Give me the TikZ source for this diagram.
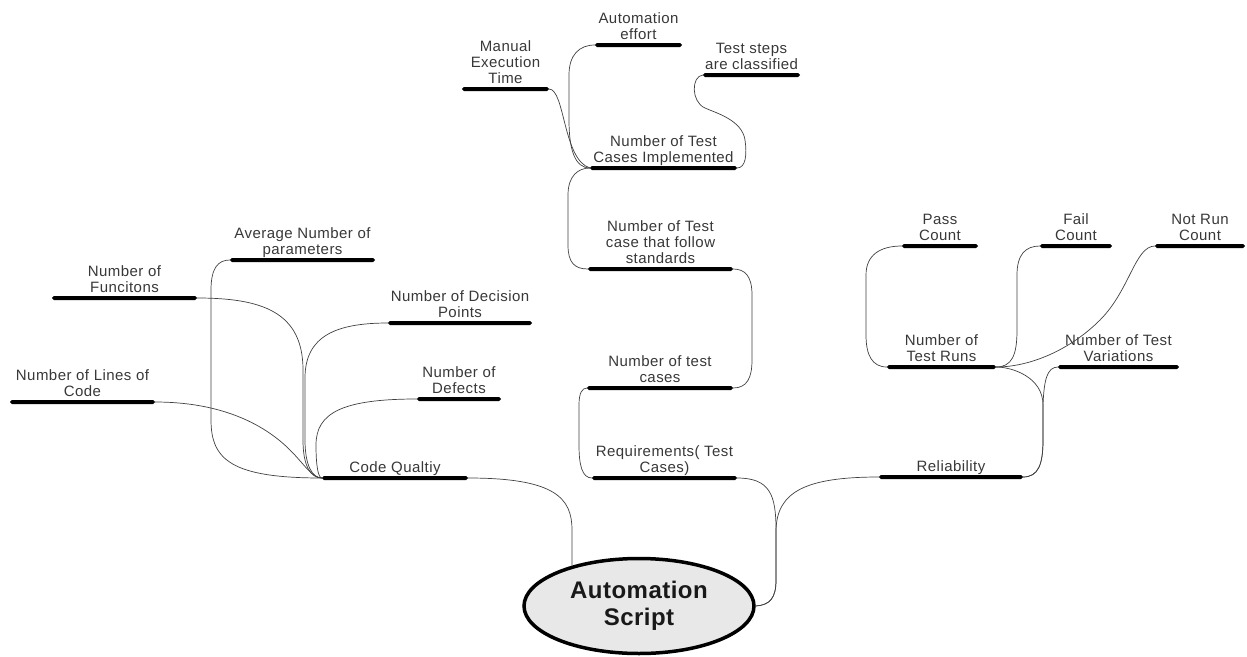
\documentclass[tikz,border=0pt]{standalone}
\usepackage{fontspec}
\setmainfont{Liberation Sans}[LetterSpace=3]
\newfontfamily\rootfont{Liberation Sans}[LetterSpace=2]
\usetikzlibrary{shapes.geometric}
\begin{document}
\begin{tikzpicture}[x=1pt,y=-1pt,
  lbl/.style={font=\fontsize{15}{16}\selectfont, align=center, inner sep=0pt,
    text depth=3pt, text=black!78},
  topic/.style={fill=black, rounded corners=1.8pt, minimum height=4pt,
    minimum width=#1, inner sep=0pt, outer sep=0pt, label distance=1pt},
  conn/.style={draw=black!75, line width=0.7pt},
  rootnode/.style={ellipse, draw=black, line width=3.5pt, fill=gray!18,
    minimum width=230pt, minimum height=95pt, inner sep=0pt, align=center,
    font=\rootfont\bfseries\fontsize{24}{27}\selectfont, text=black!90}]
\useasboundingbox (0,0) rectangle (1247,656);

% central topic
\node[rootnode] (root) at (639,606) {Automation\\Script};

% centre column
\node[topic=87,  label={[lbl]above:{Automation\\effort}}] (autoeff) at (638.5,45) {};
\node[topic=87,  label={[lbl]above:{Manual\\Execution\\Time}}] (manual) at (505.5,89) {};
\node[topic=97,  label={[lbl]above:{Test steps\\are classified}}] (steps) at (751.5,75) {};
\node[topic=147, label={[lbl]above:{Number of Test\\Cases Implemented}}] (impl) at (663.5,168) {};
\node[topic=145, label={[lbl]above:{Number of Test\\case that follow\\standards}}] (std) at (660.5,269) {};
\node[topic=146, label={[lbl]above:{Number of test\\cases}}] (ntc) at (660,388) {};
\node[topic=145, label={[lbl]above:{Requirements( Test\\Cases)}}] (req) at (664.5,478) {};

% code quality branch
\node[topic=146, label={[lbl]above:{Code Qualtiy}}] (cq) at (395,478) {};
\node[topic=145, label={[lbl]above:{Average Number of\\parameters}}] (avgpar) at (302.5,260) {};
\node[topic=145, label={[lbl]above:{Number of\\Funcitons}}] (funcs) at (124.5,298) {};
\node[topic=144, label={[lbl]above:{Number of Decision\\Points}}] (decis) at (460,323) {};
\node[topic=84,  label={[lbl]above:{Number of\\Defects}}] (defects) at (459,399) {};
\node[topic=145, label={[lbl]above:{Number of Lines of\\Code}}] (loc) at (82.5,402) {};

% reliability branch
\node[topic=144, label={[lbl]above:{Reliability}}] (rel) at (951,477) {};
\node[topic=109, label={[lbl]above:{Number of\\Test Runs}}] (runs) at (941.5,367) {};
\node[topic=121, label={[lbl]above:{Number of Test\\Variations}}] (vars) at (1118.5,367) {};
\node[topic=76,  label={[lbl]above:{Pass\\Count}}] (pass) at (940,246) {};
\node[topic=72,  label={[lbl]above:{Fail\\Count}}] (fail) at (1076,246) {};
\node[topic=90,  label={[lbl]above:{Not Run\\Count}}] (notrun) at (1200,246) {};

% root connectors
\draw[conn] (cq.east) .. controls (555,478) and (572,498) .. (572,530) -- (root.149);
\draw[conn] (root.east) .. controls (770,605) and (776,598) .. (776,580) -- (776,530)
  .. controls (776,495) and (770,478) .. (req.east);
\draw[conn] (root.east) .. controls (770,605) and (776,598) .. (776,580) -- (776,530)
  .. controls (777,492) and (805,477) .. (rel.west);

% centre column chain
\draw[conn] (req.west) .. controls (582,478) and (579,465) .. (579,445) -- (579,405)
  .. controls (579,393) and (582,388) .. (ntc.west);
\draw[conn] (ntc.east) .. controls (747,388) and (752,378) .. (752,360) -- (752,295)
  .. controls (752,276) and (745,269) .. (std.east);
\draw[conn] (std.west) .. controls (574,269) and (568,262) .. (568,245) -- (568,195)
  .. controls (568,176) and (578,168) .. (impl.west);
\draw[conn] (impl.west) .. controls (575,168) and (569,150) .. (569,120) -- (569,75)
  .. controls (569,55) and (579,45) .. (autoeff.west);
\draw[conn] (impl.west) .. controls (563,160) and (565,89) .. (manual.east);
\draw[conn] (impl.east) .. controls (746,168) and (747,154) .. (745,140)
  .. controls (742,120) and (716,113) .. (705,108)
  .. controls (691,102) and (691,76) .. (steps.west);

% code quality children
\draw[conn] (cq.west) .. controls (232,478) and (211,460) .. (211,420) -- (211,290)
  .. controls (211,268) and (218,260) .. (avgpar.west);
\draw[conn] (cq.west) .. controls (310,478) and (303,465) .. (303,440) -- (303,370)
  .. controls (303,312) and (262,298) .. (funcs.east);
\draw[conn] (cq.west) .. controls (312,478) and (305,465) .. (305,440) -- (305,378)
  .. controls (305,336) and (336,323) .. (decis.west);
\draw[conn] (cq.west) .. controls (318,478) and (316,465) .. (316,445)
  .. controls (316,413) and (342,399) .. (defects.west);
\draw[conn] (cq.west) .. controls (312,478) and (305,465) .. (290,450)
  .. controls (262,422) and (218,402) .. (loc.east);

% reliability children
\draw[conn] (rel.east) .. controls (1038,477) and (1043,465) .. (1043,440) -- (1043,405)
  .. controls (1043,377) and (1012,367) .. (runs.east);
\draw[conn] (rel.east) .. controls (1038,477) and (1043,465) .. (1043,440) -- (1043,405)
  .. controls (1044,380) and (1047,367) .. (vars.west);
\draw[conn] (runs.west) .. controls (872,367) and (866,355) .. (866,335) -- (866,275)
  .. controls (866,255) and (880,246) .. (pass.west);
\draw[conn] (runs.east) .. controls (1012,367) and (1017,355) .. (1017,330) -- (1017,275)
  .. controls (1017,255) and (1025,246) .. (fail.west);
\draw[conn] (runs.east) .. controls (1030,367) and (1070,350) .. (1100,320)
  .. controls (1130,290) and (1135,246) .. (notrun.west);
\end{tikzpicture}
\end{document}
